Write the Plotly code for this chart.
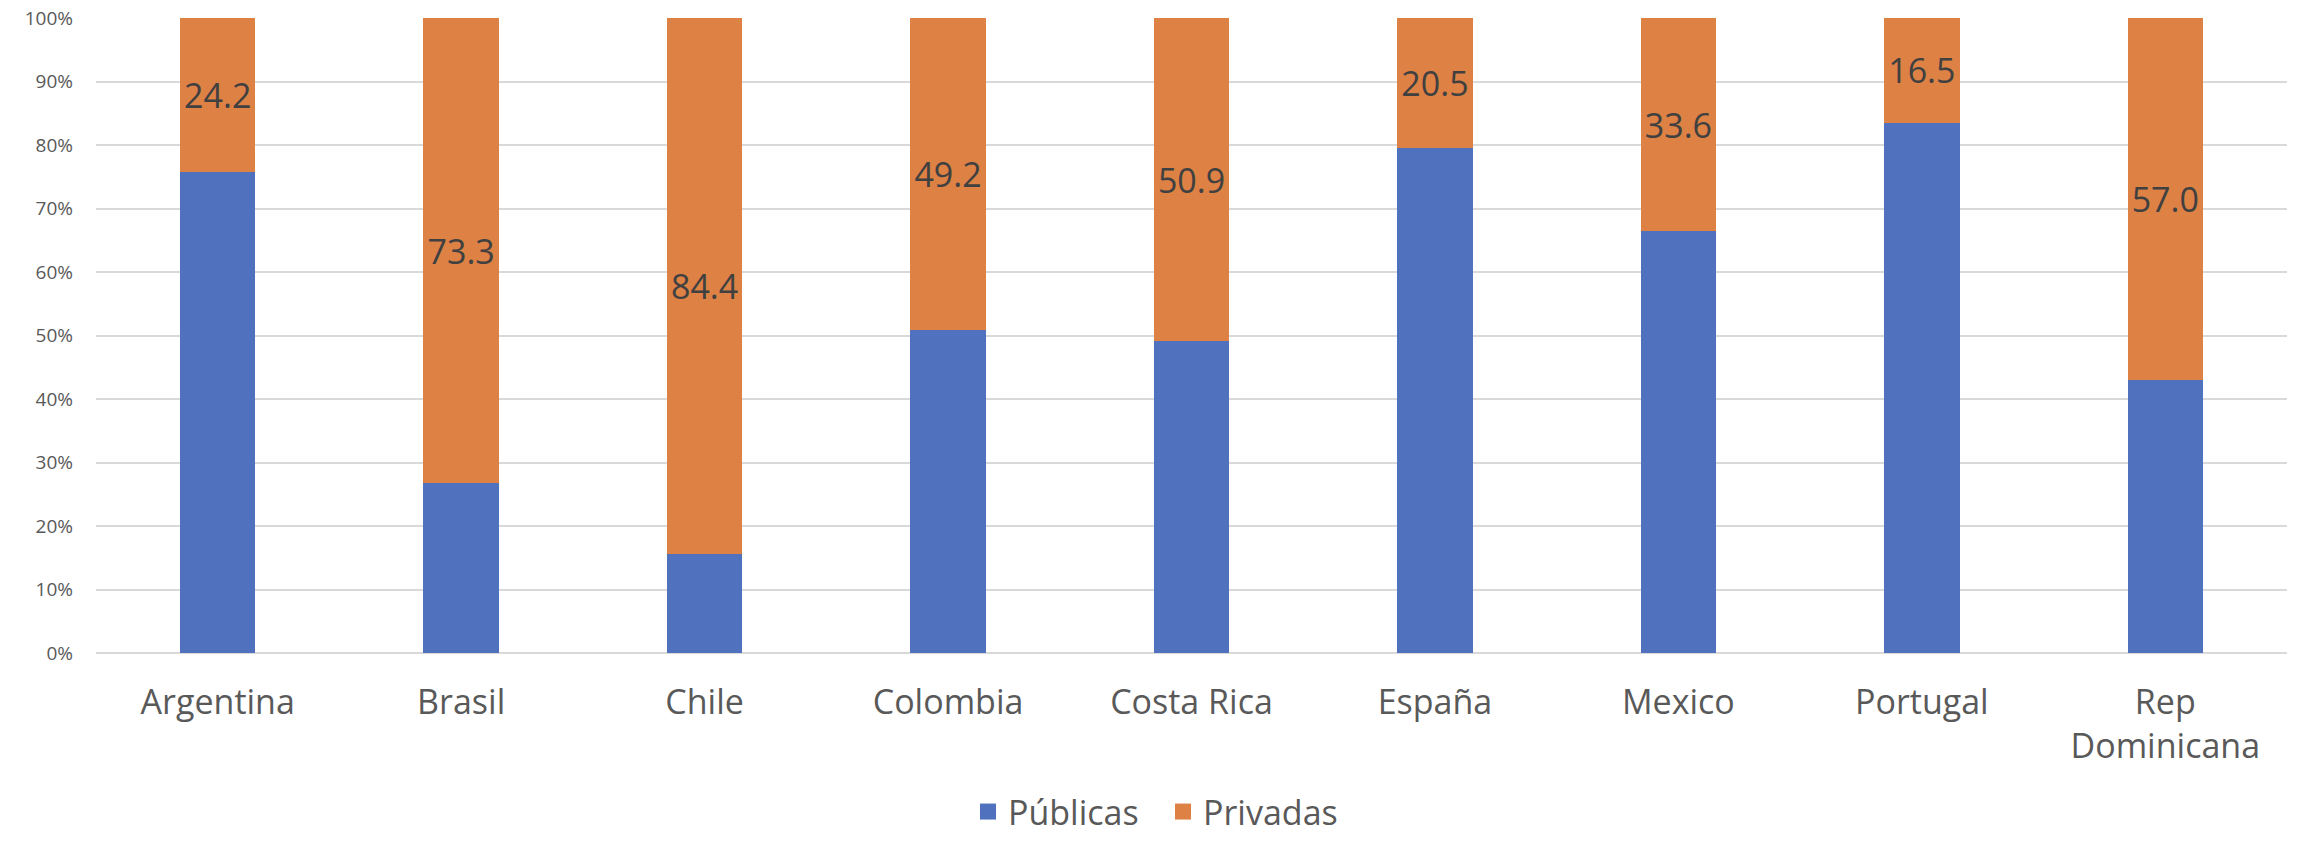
import plotly.graph_objects as go

# Share of institutions by sector, per country (percent)
countries = ["Argentina", "Brasil", "Chile", "Colombia", "Costa Rica",
             "España", "Mexico", "Portugal", "Rep<br>Dominicana"]
privadas = [24.2, 73.3, 84.4, 49.2, 50.9, 20.5, 33.6, 16.5, 57.0]
publicas = [round(100 - p, 1) for p in privadas]

y_ticks = [0, 10, 20, 30, 40, 50, 60, 70, 80, 90, 100]
y_tick_labels = [f"{v}%" for v in y_ticks]

FONT = "Open Sans"
BLUE = "#5071BE"
ORANGE = "#DD8145"

fig = go.Figure()
fig.add_trace(go.Bar(
    name="Públicas", x=countries, y=publicas,
    marker=dict(color=BLUE, line=dict(width=0)),
    width=0.31, showlegend=False,
))
fig.add_trace(go.Bar(
    name="Privadas", x=countries, y=privadas,
    marker=dict(color=ORANGE, line=dict(width=0)),
    width=0.31, showlegend=False,
    text=[f"{v:.1f}" for v in privadas],
    textposition="inside", insidetextanchor="middle",
    textfont=dict(family=FONT, size=34, color="#404040"),
    textangle=0,
))

# Legend entries with larger square swatches
for name, color in [("Públicas", BLUE), ("Privadas", ORANGE)]:
    fig.add_trace(go.Scatter(
        name=name, x=[None], y=[None], mode="markers",
        marker=dict(symbol="square", size=20, color=color),
        showlegend=True, hoverinfo="skip",
    ))

fig.update_layout(
    barmode="stack",
    width=2300, height=841,
    margin=dict(l=96, r=13, t=18, b=188, autoexpand=False),
    paper_bgcolor="white", plot_bgcolor="white",
    font=dict(family=FONT, color="#595959"),
    showlegend=True,
    legend=dict(
        orientation="h", x=0.487, xanchor="center", y=-0.296, yanchor="bottom",
        font=dict(family=FONT, size=34, color="#595959"),
        itemsizing="trace", traceorder="normal",
        entrywidth=150, entrywidthmode="pixels",
    ),
    uniformtext=dict(minsize=10, mode="show"),
)
fig.update_xaxes(
    type="category", showgrid=False, showline=False, zeroline=False,
    tickfont=dict(family=FONT, size=34, color="#595959"),
    ticks="", ticklabelstandoff=26, automargin=False,
)
fig.update_yaxes(
    range=[0, 100], tickvals=y_ticks, ticktext=y_tick_labels,
    showgrid=True, gridcolor="#D9D9D9", gridwidth=2,
    zeroline=True, zerolinecolor="#D9D9D9", zerolinewidth=2,
    showline=False, ticks="", ticklabelstandoff=22, automargin=False,
    tickfont=dict(family=FONT, size=19, color="#595959"),
)

fig.write_html("out.html")
